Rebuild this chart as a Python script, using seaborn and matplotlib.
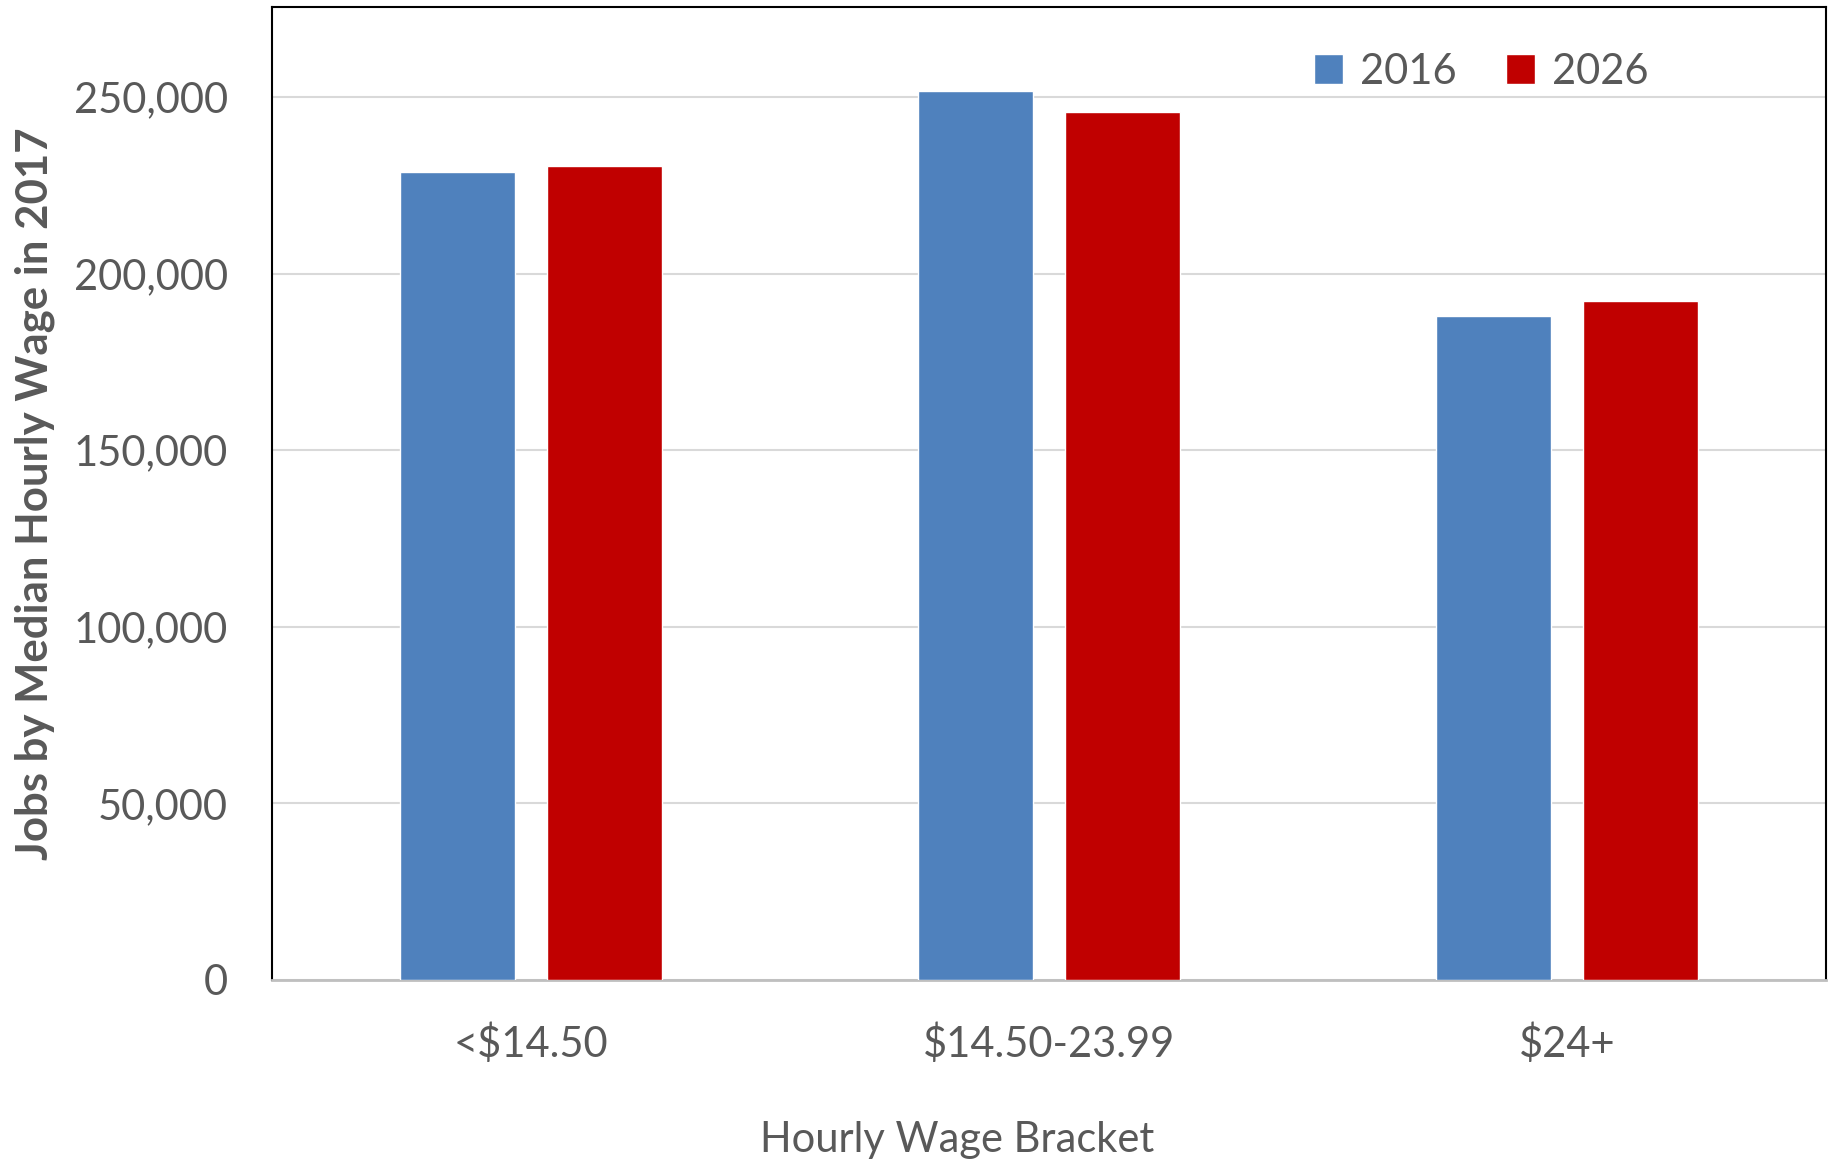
import matplotlib
matplotlib.use("Agg")
import matplotlib.pyplot as plt
import seaborn as sns
import pandas as pd
from matplotlib.ticker import FuncFormatter

categories = ["<$14.50", "$14.50-23.99", "$24+"]
years = ["2016", "2026"]
values_2016 = [228800, 251600, 188000]
values_2026 = [230600, 245700, 192300]
colors = {"2016": "#4F81BD", "2026": "#C00000"}

df = pd.DataFrame({
    "bracket": categories * 2,
    "year": ["2016"] * 3 + ["2026"] * 3,
    "jobs": values_2016 + values_2026,
})

sns.set_theme(style="white")
plt.rcParams["font.family"] = ["Lato", "DejaVu Sans"]
txt = "#595959"

fig = plt.figure(figsize=(18.31, 11.60), dpi=100)
ax = fig.add_axes([0.1486, 0.1552, 0.8487, 0.8385])

sns.barplot(data=df, x="bracket", y="jobs", hue="year", hue_order=years,
            palette=colors, width=0.568, gap=0.214, ax=ax, errorbar=None,
            saturation=1, zorder=3)

ax.set_xlim(-0.5, 2.5)
ax.set_ylim(0, 275400)
ax.set_yticks([0, 50000, 100000, 150000, 200000, 250000])
ax.yaxis.set_major_formatter(FuncFormatter(lambda v, p: f"{int(v):,}"))
ax.grid(axis="y", color="#d9d9d9", linewidth=1.5, zorder=0)
ax.set_axisbelow(True)

for s in ["left", "top", "right"]:
    ax.spines[s].set_color("black")
    ax.spines[s].set_linewidth(1.5)
ax.spines["bottom"].set_color("#bfbfbf")
ax.spines["bottom"].set_linewidth(2)

ax.tick_params(axis="y", labelsize=30, labelcolor=txt, length=0, pad=32)
ax.tick_params(axis="x", labelsize=30, labelcolor=txt, length=0, pad=31)

ax.set_xlabel("Hourly Wage Bracket", fontsize=30, color=txt)
ax.xaxis.set_label_coords(0.441, -0.145)
ax.set_ylabel("Jobs by Median Hourly Wage in 2017", fontsize=31.5, color=txt,
              fontweight="bold")
ax.yaxis.set_label_coords(-0.14, 0.5)

leg = ax.legend(loc="center", bbox_to_anchor=(0.778, 0.934), ncol=2, frameon=False,
                fontsize=30, handlelength=0.7, handleheight=0.7,
                columnspacing=1.2, handletextpad=0.4)
for t in leg.get_texts():
    t.set_color(txt)

fig.savefig("out.png", dpi=100)
